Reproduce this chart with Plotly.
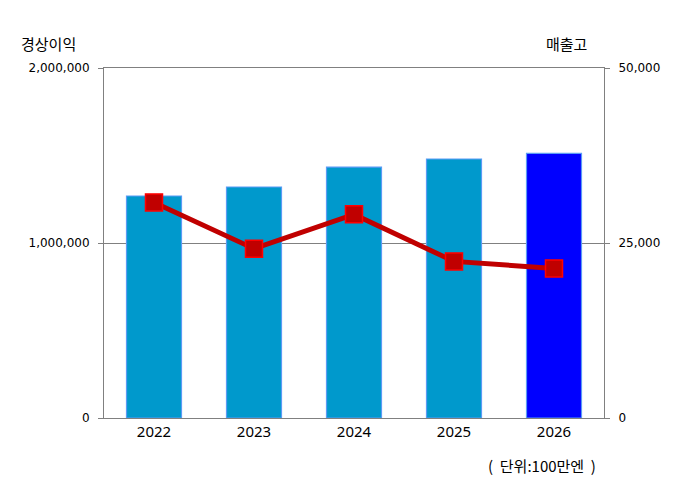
import plotly.graph_objects as go

YEARS = ["2022", "2023", "2024", "2025", "2026"]
KEIJO_RIEKI = [1268600, 1320000, 1434000, 1480000, 1512000]   # bars, left axis
URIAGE = [30800, 24190, 29090, 22370, 21370]                  # line, right axis
BAR_COLORS = ["#0099cc", "#0099cc", "#0099cc", "#0099cc", "#0000ff"]

LEFT_TICKS = [0, 1000000, 2000000]
RIGHT_TICKS = [0, 25000, 50000]

GRAY = "#808080"
KR_FONT = "Noto Sans CJK KR"


def main():

    fig = go.Figure()

    fig.add_trace(
        go.Bar(x=YEARS,
               y=KEIJO_RIEKI,
               marker_color=BAR_COLORS,
               marker_line_color="#5b9bf5",
               marker_line_width=1.2,
               yaxis="y"))

    fig.add_trace(
        go.Scatter(x=YEARS,
                   y=URIAGE,
                   mode="lines+markers",
                   line_color="#c00000",
                   line_width=5,
                   marker_symbol="square",
                   marker_size=17,
                   marker_color="#c00000",
                   marker_line_color="#ff0000",
                   marker_line_width=1.5,
                   yaxis="y2"))

    # page body adds ~7px offset, so margins are trimmed accordingly
    fig.update_layout(
        showlegend=False,
        width=690,
        height=497,
        margin=dict(l=96, r=94, t=60, b=87),
        paper_bgcolor="white",
        plot_bgcolor="white",
        bargap=0.45,
        font_family="DejaVu Sans",
        font_color="black",
        xaxis=dict(
            showline=True,
            linecolor=GRAY,
            linewidth=1,
            mirror=True,
            ticks="",
            showgrid=False,
            tickfont=dict(family="Noto Sans", size=15),
        ),
        yaxis=dict(
            range=[0, 2000000],
            tickvals=LEFT_TICKS,
            tickformat=",d",
            showline=True,
            linecolor=GRAY,
            showgrid=True,
            gridcolor=GRAY,
            gridwidth=1,
            zeroline=False,
            ticks="outside",
            ticklen=5,
            tickcolor=GRAY,
            ticklabelstandoff=6,
            tickfont=dict(size=12),
        ),
        yaxis2=dict(
            range=[0, 50000],
            tickvals=RIGHT_TICKS,
            tickformat=",d",
            overlaying="y",
            side="right",
            showline=True,
            linecolor=GRAY,
            showgrid=False,
            zeroline=False,
            ticks="outside",
            ticklen=5,
            tickcolor=GRAY,
            ticklabelstandoff=6,
            tickfont=dict(size=12),
        ),
        annotations=[
            dict(x=-0.17, y=1.071, xref="paper", yref="paper",
                 xanchor="left", yanchor="middle", showarrow=False,
                 text="경상이익", font=dict(family=KR_FONT, size=15)),
            dict(x=0.924, y=1.071, xref="paper", yref="paper",
                 xanchor="center", yanchor="middle", showarrow=False,
                 text="매출고", font=dict(family=KR_FONT, size=15)),
            dict(x=0.988, y=-0.137, xref="paper", yref="paper",
                 xanchor="right", yanchor="middle", showarrow=False,
                 text="(  단위:100만엔  )", font=dict(family=KR_FONT, size=15)),
        ],
    )

    fig.write_html("out.html")


if __name__ == "__main__":

    main()
